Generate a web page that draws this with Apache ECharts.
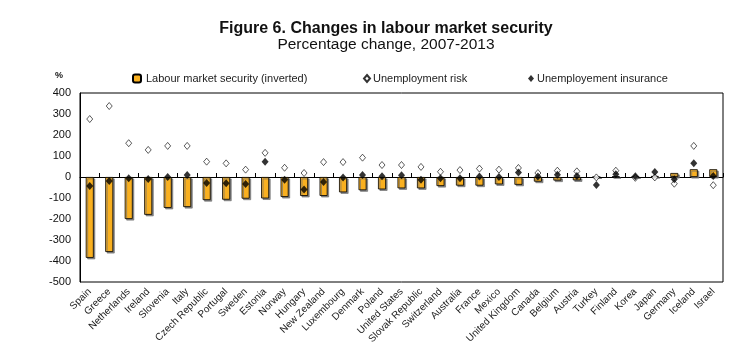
<!DOCTYPE html>
<html>
<head>
<meta charset="utf-8">
<script src="https://cdn.jsdelivr.net/npm/echarts@6/dist/echarts.min.js"></script>
<style>
  html, body { margin: 0; padding: 0; background: #fff; }
  #chart { width: 755px; height: 350px; }
</style>
</head>
<body>
<div id="chart"></div>
<script>
// countries, left to right
var countries = ['Spain', 'Greece', 'Netherlands', 'Ireland', 'Slovenia', 'Italy', 'Czech Republic',
  'Portugal', 'Sweden', 'Estonia', 'Norway', 'Hungary', 'New Zealand', 'Luxembourg', 'Denmark',
  'Poland', 'United States', 'Slovak Republic', 'Switzerland', 'Australia', 'France', 'Mexico',
  'United Kingdom', 'Canada', 'Belgium', 'Austria', 'Turkey', 'Finland', 'Korea', 'Japan',
  'Germany', 'Iceland', 'Israel'];

// labour market security (inverted), % change
var security = [-385, -357, -200, -180, -147, -143, -110, -108, -103, -102, -95, -90, -90, -73, -63,
  -59, -54, -54, -43, -41, -41, -35, -37, -22, -17, -16, 0, 3, 1, 5,
  19, 37, 37];

// unemployment risk
var risk = [276, 338, 161, 129, 148, 148, 73, 65, 35, 115, 44, 19, 71, 71, 92,
  57, 57, 48, 25, 33, 40, 35, 43, 19, 30, 27, -2, 30, -4, -2,
  -32, 148, -39];

// unemployment insurance
var insurance = [-43, -19, -6, -9, 0, 9, -28, -30, -33, 73, -13, -60, -24, -2, 9,
  3, 8, -13, -6, -6, 2, 0, 22, 2, 11, 5, -38, 13, 3, 24,
  -11, 66, 5];

var yTicks = { min: -500, max: 400, step: 100 };

var font = 'Liberation Sans, Arial, sans-serif';

var chart = echarts.init(document.getElementById('chart'));
chart.setOption({
  animation: false,
  textStyle: { fontFamily: font },
  title: [{
    text: 'Figure 6. Changes in labour market security',
    left: 386, textAlign: 'center', top: 21, padding: 0,
    textStyle: { fontSize: 16, fontWeight: 'bold', color: '#111', fontFamily: font }
  }, {
    text: 'Percentage change, 2007-2013',
    left: 386, textAlign: 'center', top: 37, padding: 0,
    textStyle: { fontSize: 15.5, fontWeight: 'normal', color: '#111', fontFamily: font }
  }],
  graphic: [{
    type: 'text', left: 55, top: 71,
    style: { text: '%', fontSize: 9, fontWeight: 'bold', fill: '#111', fontFamily: font }
  }],
  legend: [{
    data: ['Labour market security (inverted)'],
    left: 127, top: 68, itemWidth: 8, itemHeight: 8, itemGap: 4,
    textStyle: { fontSize: 11, color: '#222' }
  }, {
    data: ['Unemployment risk'],
    left: 358, top: 68, itemWidth: 6, itemHeight: 7,
    textStyle: { fontSize: 11, color: '#222', padding: [0, 0, 0, -2] }
  }, {
    data: ['Unemployement insurance'],
    left: 523, top: 68, itemWidth: 6, itemHeight: 7,
    textStyle: { fontSize: 11, color: '#222', padding: [0, 0, 0, -2] }
  }],
  grid: { left: 80, right: 32, top: 93, bottom: 68, show: true, borderColor: '#000', borderWidth: 1 },
  xAxis: {
    type: 'category',
    data: countries,
    position: 'bottom',
    axisLine: { onZero: true, lineStyle: { color: '#000', width: 1 } },
    axisTick: { show: true, inside: true, length: 4, lineStyle: { color: '#000' } },
    axisLabel: { rotate: 45, fontSize: 10, color: '#222', interval: 0, margin: 8 }
  },
  yAxis: {
    type: 'value',
    min: yTicks.min, max: yTicks.max, interval: yTicks.step,
    axisLine: { show: true, lineStyle: { color: '#000' } },
    axisTick: { show: false },
    splitLine: { show: false },
    axisLabel: { fontSize: 11, color: '#111', margin: 9 }
  },
  series: [{
    name: 'Labour market security (inverted)',
    type: 'bar',
    data: security,
    barWidth: 8,
    itemStyle: {
      color: '#F9B020',
      borderColor: '#000',
      borderWidth: 0.8,
      shadowColor: 'rgba(110,110,110,0.85)',
      shadowOffsetX: 1.5,
      shadowOffsetY: 1.5,
      shadowBlur: 0
    }
  }, {
    name: 'Unemployment risk',
    type: 'scatter',
    data: risk,
    symbol: 'diamond',
    symbolSize: [6, 7],
    itemStyle: { color: '#fff', borderColor: '#000', borderWidth: 0.8 }
  }, {
    name: 'Unemployement insurance',
    type: 'scatter',
    data: insurance,
    symbol: 'diamond',
    symbolSize: [7, 8],
    itemStyle: { color: '#000' }
  }]
});
</script>
</body>
</html>
